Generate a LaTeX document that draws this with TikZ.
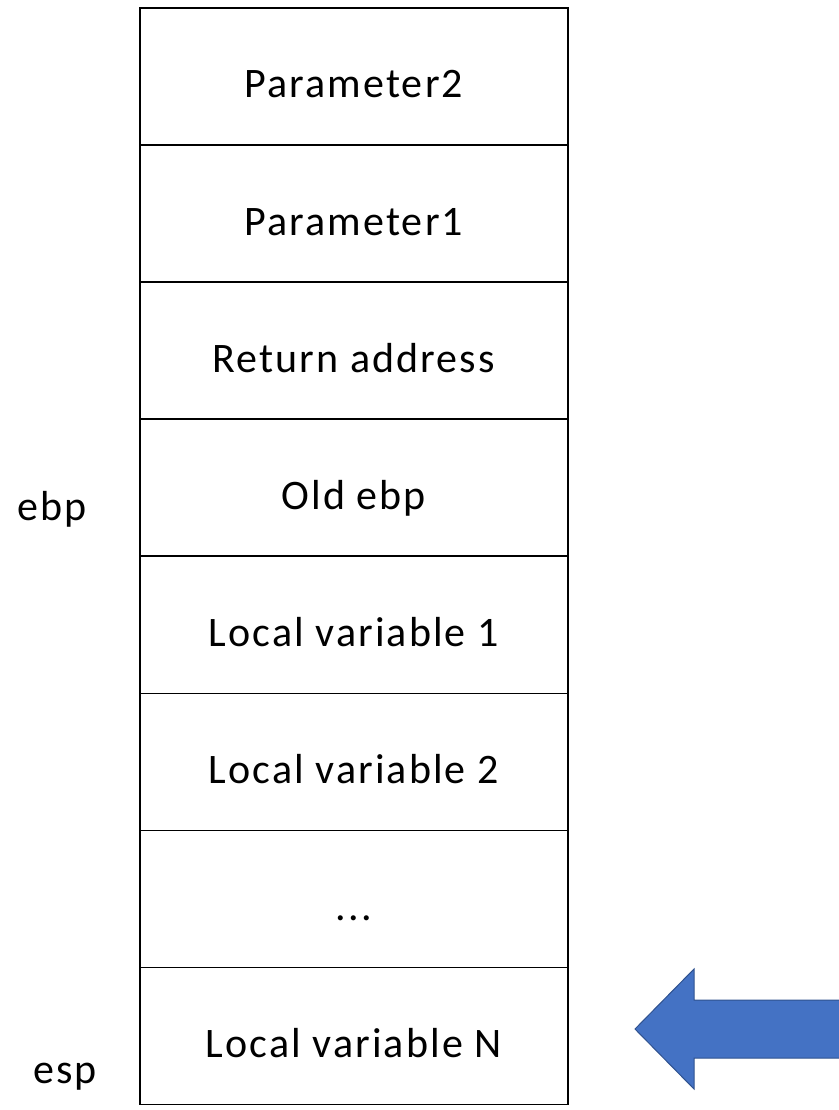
\documentclass[tikz,border=0pt]{standalone}
\usepackage{fontspec}
\setmainfont[LetterSpace=5]{Carlito}
\usetikzlibrary{calc}
\definecolor{arrowfill}{HTML}{4472C4}
\definecolor{arrowline}{HTML}{2F528F}
\newcommand{\threedots}{...}
\begin{document}
\begin{tikzpicture}[x=1pt,y=-1pt,
  cell/.style={draw=black,line width=1.6pt,minimum width=428pt,minimum height=137.1pt,inner sep=0pt,anchor=north west},
  celltext/.style={anchor=base,inner sep=0pt,font=\fontsize{42}{48}\selectfont},
  reglabel/.style={anchor=base west,inner sep=0pt,font=\fontsize{42}{48}\selectfont}]
\useasboundingbox (0,0) rectangle (838,1110);
\foreach \i/\t in {0/Parameter2,1/Parameter1,2/Return address,3/Old ebp,4/Local variable 1,5/Local variable 2,6/\threedots,7/Local variable N}{
  \node[cell] (row\i) at (139,{7+137.1*\i}) {};
  \node[celltext] (txt\i) at ($(row\i.north)+(0,91)$) {\t};
}
\node[reglabel] (ebp) at (17,520) {ebp};
\node[reglabel] (esp) at (33,1083) {esp};
\draw[fill=arrowfill,draw=arrowline,line width=1pt]
  (635,1029) -- (694,969) -- (694,1000) -- (840,1000) -- (840,1058) -- (694,1058) -- (694,1089) -- cycle;
\end{tikzpicture}
\end{document}
